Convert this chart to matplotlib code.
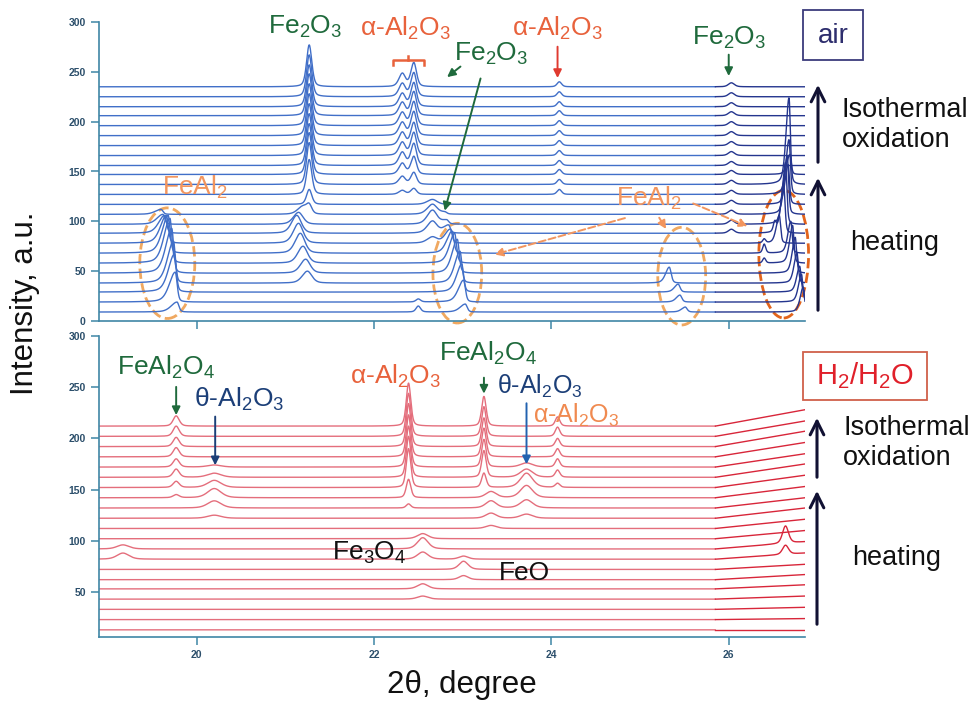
import numpy as np
import matplotlib.pyplot as plt
from matplotlib.patches import Ellipse, Rectangle, FancyArrowPatch

plt.rcParams['font.family'] = ['Liberation Sans', 'DejaVu Sans']
plt.rcParams['mathtext.fontset'] = 'custom'
plt.rcParams['mathtext.rm'] = 'Liberation Sans'
plt.rcParams['mathtext.it'] = 'Liberation Sans:italic'
plt.rcParams['mathtext.bf'] = 'Liberation Sans:bold'

# ---- data ----
x_min, x_max = 18.9, 26.86
x_split = 25.85          # right part of the scans is drawn darker
x_ticks = [20, 22, 24, 26]
y_ticks_air = [0, 50, 100, 150, 200, 250, 300]
y_ticks_h2 = [50, 100, 150, 200, 250, 300]

# air: baseline of every scan, bottom to top
air_offset = [9, 19, 29, 38, 48, 58, 68, 78, 88, 97, 107, 117,
              127, 137, 147, 156, 166, 176, 186, 196, 206, 215, 225, 235]

# peaks: (centre per scan or one value, amplitude per scan, left width, right width)
air_feal2_a_pos = [19.78, 19.76, 19.75, 19.74, 19.72, 19.70, 19.68, 19.66, 19.64, 19.62, 19.60]
air_feal2_a_amp = [10, 30, 38, 42, 45, 45, 38, 28, 18, 10, 5]
air_fe2o3_broad_pos = [21.25, 21.25, 21.25, 21.25, 21.23, 21.20, 21.17, 21.15, 21.13, 21.15, 21.20]
air_fe2o3_broad_amp = [0, 0, 0, 12, 14, 17, 20, 20, 18, 12, 8]
air_fe2o3_amp = [0, 0, 0, 0, 0, 0, 0, 0, 0, 0, 8, 15, 35,
                 42, 42, 42, 42, 42, 42, 42, 42, 42, 42, 42]
air_al2o3_a_amp = [0] * 12 + [4, 8, 11, 13, 13, 13, 13, 13, 13, 13, 13, 13]
air_al2o3_b_amp = [0] * 12 + [6, 12, 18, 22, 23, 23, 24, 24, 24, 24, 24, 24]
air_feal2_b_pos = [23.03, 23.01, 22.99, 22.97, 22.94, 22.91, 22.88, 22.86, 22.84, 22.82, 22.80]
air_feal2_b_amp = [8, 22, 28, 32, 34, 30, 22, 14, 8, 4, 2]
air_broad_2266_amp = [0, 0, 0, 0, 0, 0, 0, 6, 12, 14, 10, 5]
air_small_225_amp = [6, 3]
air_al2o3_24_amp = [0] * 12 + [5] * 12
air_feal2_c_pos = [25.51, 25.45, 25.43, 25.33]
air_feal2_c_amp = [5, 7, 8, 16]
air_fe2o3_26_amp = [0] * 8 + [4] * 16
air_right_pos = [26.84, 26.82, 26.80, 26.77, 26.75, 26.72, 26.70, 26.57,
                 26.62, 26.64, 26.66, 26.67, 26.68, 26.68, 26.69]
air_right_amp = [25, 28, 26, 30, 36, 38, 32, 28, 48, 62, 58, 40, 55, 87, 20]
air_small_264_amp = [0, 0, 0, 0, 0, 5, 9, 4]
air_small_2652_amp = [0, 0, 0, 0, 0, 0, 0, 0, 10]

# H2/H2O: baseline of every scan, bottom to top, and rise at the right end
h2_offset = [13, 23, 33, 43, 53, 62, 72, 82, 92, 102, 112,
             122, 132, 142, 152, 162, 172, 182, 192, 202, 212]
h2_rise = [0, 1, 2, 3, 4, 5, 5, 6, 7, 8, 9, 10, 10, 11, 12, 13, 13, 14, 15, 15, 16]

h2_feal2o4_a_amp = [0] * 13 + [3, 6, 8, 8, 9, 9, 10, 10]
h2_theta_a_amp = [0] * 11 + [3, 7, 9, 7, 4, 2]
h2_bump_1917_amp = [0] * 7 + [6, 4]
h2_al2o3_a_amp = [0] * 12 + [4, 18, 38, 40, 40, 41, 42, 42, 42]
h2_fe3o4_amp = [0, 0, 0, 3, 5, 0, 0, 7, 11, 5]
h2_feo_amp = [0, 0, 0, 0, 0, 4, 8, 3]
h2_feal2o4_b_amp = [0] * 14 + [14, 26, 27, 28, 28, 29, 29]
h2_broad_2332_amp = [0] * 10 + [3, 5, 7, 6]
h2_theta_b_amp = [0] * 11 + [4, 8, 12, 14, 8, 4]
h2_al2o3_b_amp = [0] * 14 + [4, 7, 8, 8, 8, 9, 9]
h2_right_amp = [0] * 7 + [9, 17]

air_peaks = [
    (air_feal2_a_pos, air_feal2_a_amp, 0.08, 0.025),
    (air_fe2o3_broad_pos, air_fe2o3_broad_amp, 0.07, 0.06),
    (21.27, air_fe2o3_amp, 0.035, 0.035),
    (22.32, air_al2o3_a_amp, 0.045, 0.04),
    (22.45, air_al2o3_b_amp, 0.04, 0.035),
    (air_feal2_b_pos, air_feal2_b_amp, 0.07, 0.025),
    (22.66, air_broad_2266_amp, 0.07, 0.06),
    (22.50, air_small_225_amp, 0.03, 0.03),
    (24.09, air_al2o3_24_amp, 0.03, 0.03),
    (air_feal2_c_pos, air_feal2_c_amp, 0.05, 0.025),
    (26.03, air_fe2o3_26_amp, 0.04, 0.04),
    (air_right_pos, air_right_amp, 0.04, 0.018),
    (26.40, air_small_264_amp, 0.02, 0.02),
    (26.52, air_small_2652_amp, 0.02, 0.02),
]

h2_peaks = [
    (19.77, h2_feal2o4_a_amp, 0.04, 0.04),
    (20.20, h2_theta_a_amp, 0.09, 0.09),
    (19.17, h2_bump_1917_amp, 0.08, 0.08),
    (22.39, h2_al2o3_a_amp, 0.03, 0.03),
    (22.55, h2_fe3o4_amp, 0.07, 0.07),
    (23.01, h2_feo_amp, 0.06, 0.06),
    (23.24, h2_feal2o4_b_amp, 0.03, 0.03),
    (23.32, h2_broad_2332_amp, 0.07, 0.07),
    (23.72, h2_theta_b_amp, 0.08, 0.08),
    (24.07, h2_al2o3_b_amp, 0.03, 0.03),
    (26.64, h2_right_amp, 0.04, 0.04),
]

two_theta = np.linspace(x_min, x_max, 2500)


def peak(x, c, a, wl, wr):
    w = np.where(x < c, wl, wr)
    u = (x - c) / w
    return a * (0.6 * np.exp(-np.log(2) * u * u) + 0.4 / (1 + u * u))


def scan(i, offset, peaks, rise=0):
    y = np.full_like(two_theta, float(offset))
    y += rise * np.clip((two_theta - x_split) / (x_max - x_split), 0, None)
    for pos, amps, wl, wr in peaks:
        if i >= len(amps) or amps[i] == 0:
            continue
        c = pos[i] if isinstance(pos, list) else pos
        y += peak(two_theta, c, amps[i], wl, wr)
    return y


W, H = 973, 702


def fx(px):
    return px / W


def fy(py):
    return 1 - py / H


fig = plt.figure(figsize=(W / 100, H / 100), dpi=100)
ax1 = fig.add_axes([fx(99), fy(321), fx(805) - fx(99), fy(22) - fy(321)])
ax2 = fig.add_axes([fx(99), fy(637), fx(805) - fx(99), fy(336) - fy(637)])

left = two_theta <= x_split
right = two_theta >= x_split

for i, off in enumerate(air_offset):
    y = scan(i, off, air_peaks)
    ax1.plot(two_theta[left], y[left], color='#416fc8', lw=1.0)
    ax1.plot(two_theta[right], y[right], color='#24358e', lw=1.0)

for i, off in enumerate(h2_offset):
    y = scan(i, off, h2_peaks, h2_rise[i])
    ax2.plot(two_theta[left], y[left], color='#e46e7c', lw=1.0)
    ax2.plot(two_theta[right], y[right], color='#d8263a', lw=1.0)

spine_c = '#3f86a6'
label_c = '#2c4f6b'
for ax, yt, ylim in [(ax1, y_ticks_air, (0, 300)), (ax2, y_ticks_h2, (6, 300))]:
    ax.set_xlim(x_min, x_max)
    ax.set_ylim(*ylim)
    ax.set_xticks(x_ticks)
    ax.set_yticks(yt)
    for s in ['top', 'right']:
        ax.spines[s].set_visible(False)
    for s in ['left', 'bottom']:
        ax.spines[s].set_color(spine_c)
        ax.spines[s].set_linewidth(1.2)
    ax.tick_params(colors=spine_c, labelcolor=label_c, labelsize=7.5, length=6, width=1.1)
    for lab in ax.get_yticklabels() + ax.get_xticklabels():
        lab.set_fontweight('bold')
ax1.set_xticklabels([])

green = '#1f6a3c'
orange = '#e8623c'
light_orange = '#f2955e'
navy = '#1c3f78'
fs = 19

# ---- air panel labels ----
ax1.text(21.22, 295, 'Fe$_2$O$_3$', color=green, fontsize=fs, ha='center', va='center')
ax1.text(22.35, 294, 'α-Al$_2$O$_3$', color=orange, fontsize=fs, ha='center', va='center')
ax1.text(23.32, 268, 'Fe$_2$O$_3$', color=green, fontsize=fs, ha='center', va='center')
ax1.text(24.07, 294, 'α-Al$_2$O$_3$', color=orange, fontsize=fs, ha='center', va='center')
ax1.text(26.0, 284, 'Fe$_2$O$_3$', color=green, fontsize=fs, ha='center', va='center')
ax1.text(19.98, 134, 'FeAl$_2$', color=light_orange, fontsize=fs, ha='center', va='center')
ax1.text(25.1, 123, 'FeAl$_2$', color=light_orange, fontsize=fs, ha='center', va='center')

ax1.plot([22.21, 22.21, 22.56, 22.56], [257, 262, 262, 257], color=orange, lw=1.8)
ax1.plot([22.385, 22.385], [262, 266], color=orange, lw=1.8)

arr = dict(arrowstyle='-|>', lw=1.4, mutation_scale=12)
ax1.annotate('', xy=(22.8, 243), xytext=(23.0, 257), arrowprops=dict(arr, color=green))
ax1.annotate('', xy=(22.79, 108), xytext=(23.21, 246), arrowprops=dict(arr, color=green))
ax1.annotate('', xy=(24.07, 241), xytext=(24.07, 278), arrowprops=dict(arr, color='#e03a30'))
ax1.annotate('', xy=(26.0, 243), xytext=(26.0, 270), arrowprops=dict(arr, color=green))
ax1.annotate('', xy=(23.33, 66), xytext=(24.86, 104),
             arrowprops=dict(arr, color=light_orange, linestyle='--'))
ax1.annotate('', xy=(25.31, 90), xytext=(25.2, 106),
             arrowprops=dict(arr, color=light_orange))
ax1.annotate('', xy=(26.24, 94), xytext=(25.57, 119),
             arrowprops=dict(arr, color=light_orange, linestyle='--'))

for cx, cy, w, h, c in [(19.67, 58, 0.62, 111, '#f0a860'), (22.94, 48, 0.55, 100, '#f0a860'),
                        (25.47, 45, 0.54, 98, '#f0a860'), (26.62, 67, 0.56, 128, '#e2641c')]:
    ax1.add_patch(Ellipse((cx, cy), w, h, fill=False, ls='--', lw=2.0, color=c, clip_on=False))

# ---- H2/H2O panel labels ----
ax2.text(19.66, 269, 'FeAl$_2$O$_4$', color=green, fontsize=fs, ha='center', va='center')
ax2.text(20.48, 238, 'θ-Al$_2$O$_3$', color=navy, fontsize=fs, ha='center', va='center')
ax2.text(22.24, 261, 'α-Al$_2$O$_3$', color=orange, fontsize=fs, ha='center', va='center')
ax2.text(23.28, 283, 'FeAl$_2$O$_4$', color=green, fontsize=fs, ha='center', va='center')
ax2.text(23.87, 251, 'θ-Al$_2$O$_3$', color=navy, fontsize=18, ha='center', va='center')
ax2.text(24.28, 222, 'α-Al$_2$O$_3$', color='#f08a50', fontsize=18, ha='center', va='center')
ax2.text(21.95, 88, 'Fe$_3$O$_4$', color='#111111', fontsize=fs, ha='center', va='center')
ax2.text(23.7, 69, 'FeO', color='#111111', fontsize=fs, ha='center', va='center')

ax2.annotate('', xy=(19.77, 220), xytext=(19.77, 253), arrowprops=dict(arr, color=green))
ax2.annotate('', xy=(20.21, 171), xytext=(20.21, 224), arrowprops=dict(arr, color=navy))
ax2.annotate('', xy=(23.24, 241), xytext=(23.24, 262), arrowprops=dict(arr, color=green))
ax2.annotate('', xy=(23.72, 172), xytext=(23.72, 237), arrowprops=dict(arr, color='#2262b0'))

# ---- right side: atmosphere boxes and stage arrows ----
fig.patches.append(Rectangle((fx(803), fy(60)), fx(863) - fx(803), fy(10) - fy(60),
                             transform=fig.transFigure, fill=False, ec='#3c3c7c', lw=1.3))
fig.text(fx(833), fy(36), 'air', color='#2d2d6d', fontsize=20, ha='center', va='center')
fig.patches.append(Rectangle((fx(803), fy(400)), fx(927) - fx(803), fy(352) - fy(400),
                             transform=fig.transFigure, fill=False, ec='#d0604a', lw=1.3))
fig.text(fx(865), fy(376), 'H$_2$/H$_2$O', color='#e0202a', fontsize=21, ha='center', va='center')

stage = dict(arrowstyle='->,head_length=0.7,head_width=0.35', color='#111133', lw=2.2)
for xa, y0, y1 in [(818, 165, 82), (818, 313, 175), (817, 480, 415), (817, 627, 488)]:
    fig.add_artist(FancyArrowPatch((fx(xa), fy(y0)), (fx(xa), fy(y1)),
                                   transform=fig.transFigure, mutation_scale=14, **stage))

fig.text(fx(842), fy(125), 'Isothermal\noxidation', fontsize=19.5, color='#111111',
         ha='left', va='center', linespacing=1.2)
fig.text(fx(850), fy(243), 'heating', fontsize=19.5, color='#111111', ha='left', va='center')
fig.text(fx(843), fy(443), 'Isothermal\noxidation', fontsize=19.5, color='#111111',
         ha='left', va='center', linespacing=1.2)
fig.text(fx(852), fy(558), 'heating', fontsize=19.5, color='#111111', ha='left', va='center')

fig.text(fx(462), fy(685), '2θ, degree', fontsize=22.5, color='#111111', ha='center', va='center')
fig.text(fx(25), fy(303), 'Intensity, a.u.', fontsize=22.5, color='#111111',
         ha='center', va='center', rotation=90)

fig.savefig('out.png', dpi=100)
